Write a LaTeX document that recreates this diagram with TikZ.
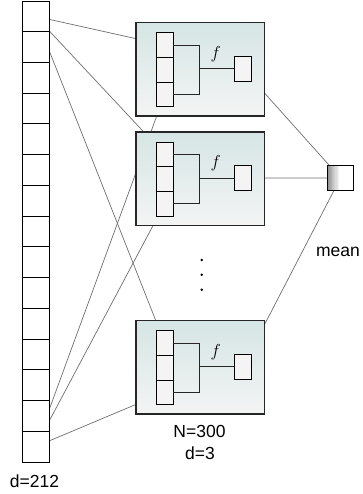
\documentclass[tikz,border=0pt]{standalone}
\usepackage{fontspec}
\setsansfont{Liberation Sans}
\pgfdeclarelayer{bg}
\pgfsetlayers{bg,main}
\definecolor{linkgray}{HTML}{6E6E6E}
\definecolor{boxtop}{HTML}{D6E5E5}
\definecolor{boxbot}{HTML}{F3F4F4}
\definecolor{cellfill}{HTML}{F4F4F4}
\tikzset{
  colcell/.style={draw=black, line width=0.9pt, fill=white, minimum width=27.3pt, minimum height=30.73pt, inner sep=0pt, outer sep=0pt},
  bigbox/.style={draw=black!85, line width=1.1pt, top color=boxtop, bottom color=boxbot, minimum width=128.3pt, minimum height=93.3pt, inner sep=0pt, outer sep=0pt},
  incell/.style={draw=black, line width=0.9pt, fill=cellfill, minimum width=17.3pt, minimum height=24.67pt, inner sep=0pt, outer sep=0pt},
  outbox/.style={draw=black, line width=0.9pt, fill=cellfill, minimum width=16.7pt, minimum height=25.3pt, inner sep=0pt, outer sep=0pt},
  meanbox/.style={draw=black, line width=0.9pt, fill=white, minimum width=25.6pt, minimum height=24.3pt, inner sep=0pt, outer sep=0pt},
  bracket/.style={draw=black!85, line width=0.9pt},
  link/.style={draw=linkgray, line width=0.7pt},
  lbl/.style={font=\sffamily\fontsize{17.5}{17.5}\selectfont, inner sep=0pt},
  dotnode/.style={circle, fill=black, minimum size=2.8pt, inner sep=0pt},
}
\newcommand\drawunit[3]{%
  \begin{scope}[shift={(#2,#3)}]
    \node[bigbox, anchor=north west] (#1) at (0,0) {};
    \node[incell] (#1c1) at (28.65,22.33) {};
    \node[incell] (#1c2) at (28.65,47) {};
    \node[incell] (#1c3) at (28.65,71.67) {};
    \node[outbox] (#1o) at (106.7,46) {};
    \draw[bracket] (#1c1.east) -- ++(26,0) coordinate (#1bt) |- (#1c3.east);
    \draw[bracket] (#1bt |- #1o.west) -- (#1o.west);
    \node[inner sep=0pt] (#1f) at (79.7,31.3) {\fontsize{17}{17}\selectfont$f$};
  \end{scope}}
\begin{document}
\begin{tikzpicture}[x=1pt,y=-1pt]
\useasboundingbox (0,0) rectangle (362,494);
% input column
\foreach \i in {1,...,15}{
  \node[colcell] (col\i) at (35.65,{1+30.73*(\i-0.5)}) {};
}
% units
\drawunit{ua}{136}{22.7}
\drawunit{ub}{136}{132}
\drawunit{uc}{136}{320.7}
% mean
\node[meanbox] (mean) at (340.5,177.9) {};
\foreach \k in {0,...,9}{
  \fill[black!\the\numexpr 42-4*\k\relax] ({327.7+1.1*\k},165.75) rectangle ({327.7+1.1*(\k+1)},190.05);
}
\draw[line width=0.9pt] (mean.north west) rectangle (mean.south east);
% connectors behind
\begin{pgfonlayer}{bg}
  \draw[link] (col1.center) -- (uac1.center);
  \draw[link] (col1.center) -- (ubc1.center);
  \draw[link] (col1.center) -- (ucc1.center);
  \draw[link] (col15.center) -- (uac3.center);
  \draw[link] (col15.center) -- (ubc3.center);
  \draw[link] (col15.center) -- (ucc3.center);
  \draw[link] (uao.center) -- (mean.center);
  \draw[link] (ubo.center) -- (mean.center);
  \draw[link] (uco.center) -- (mean.center);
\end{pgfonlayer}
% dots
\node[dotnode] (dot1) at (201.7,260) {};
\node[dotnode] (dot2) at (201.7,274.7) {};
\node[dotnode] (dot3) at (201.7,289.7) {};
% labels
\node[lbl] (lmean) at (338,251.5) {mean};
\node[lbl] (lN) at (199.5,431.3) {N=300};
\node[lbl] (ld3) at (200,453) {d=3};
\node[lbl] (ld212) at (34.5,481.7) {d=212};
\end{tikzpicture}
\end{document}
